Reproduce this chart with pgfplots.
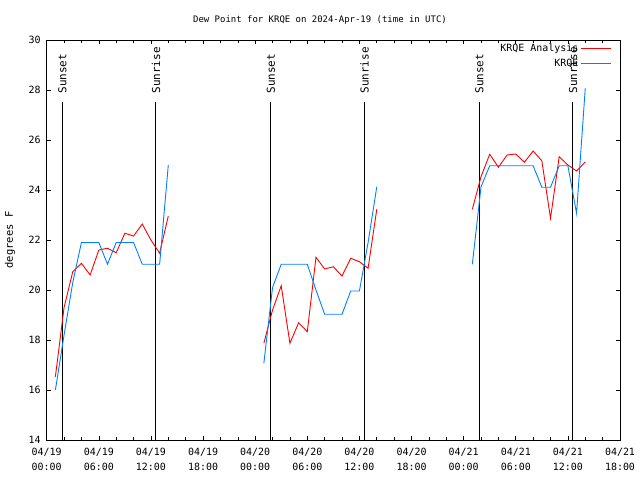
\documentclass[border=0pt]{standalone}
\usepackage{pgfplots}
\pgfplotsset{compat=1.18}
\usepackage{fontspec}
\setmainfont{DejaVu Sans Mono}
\definecolor{kblue}{RGB}{0,128,255}
\begin{document}
\fontsize{9}{11}\selectfont
\begin{tikzpicture}
\path[use as bounding box] (-46.7bp,-40bp) rectangle (593.3bp,440bp);
\begin{axis}[
  at={(0,0)}, anchor=south west,
  scale only axis, width=573.3bp, height=400bp,
  xmin=0, xmax=66, ymin=14, ymax=30,
  xtick={0,6,...,66},
  xticklabels={04/19\\00:00,04/19\\06:00,04/19\\12:00,04/19\\18:00,04/20\\00:00,04/20\\06:00,04/20\\12:00,04/20\\18:00,04/21\\00:00,04/21\\06:00,04/21\\12:00,04/21\\18:00},
  xticklabel style={align=center, font=\fontsize{10}{15}\selectfont, yshift=-5bp},
  minor x tick num=2,
  ytick={14,16,...,30},
  yticklabel style={font=\fontsize{10}{12}\selectfont, xshift=-3bp},
  tick pos=both, tick align=inside,
  major tick length=4bp, minor tick length=3bp,
  tick style={black, line width=0.6bp},
  axis line style={line width=0.8bp},
  /pgf/number format/assume math mode=true,
  unbounded coords=jump,
  legend style={at={(rel axis cs:0.985,0.995)}, anchor=north east, draw=none, fill=none,
    font=\fontsize{10}{12}\selectfont, inner sep=0pt, row sep=1.5bp,
    /tikz/every even column/.append style={column sep=5bp}},
  legend cell align=right,
  legend plot pos=right,
  legend image code/.code={\draw[#1] (0bp,0bp) -- (30bp,0bp);},
]
% sunset / sunrise lines
\addplot[black, line width=1bp, forget plot] coordinates {(1.8,14) (1.8,27.5)};
\addplot[black, line width=1bp, forget plot] coordinates {(12.58,14) (12.58,27.5)};
\addplot[black, line width=1bp, forget plot] coordinates {(25.8,14) (25.8,27.5)};
\addplot[black, line width=1bp, forget plot] coordinates {(36.58,14) (36.58,27.5)};
\addplot[black, line width=1bp, forget plot] coordinates {(49.8,14) (49.8,27.5)};
\addplot[black, line width=1bp, forget plot] coordinates {(60.58,14) (60.58,27.5)};
\node[rotate=90, anchor=west, inner sep=0pt, font=\fontsize{11}{13}\selectfont] at (axis cs:1.8,27.85) {Sunset};
\node[rotate=90, anchor=west, inner sep=0pt, font=\fontsize{11}{13}\selectfont] at (axis cs:12.58,27.85) {Sunrise};
\node[rotate=90, anchor=west, inner sep=0pt, font=\fontsize{11}{13}\selectfont] at (axis cs:25.8,27.85) {Sunset};
\node[rotate=90, anchor=west, inner sep=0pt, font=\fontsize{11}{13}\selectfont] at (axis cs:36.58,27.85) {Sunrise};
\node[rotate=90, anchor=west, inner sep=0pt, font=\fontsize{11}{13}\selectfont] at (axis cs:49.8,27.85) {Sunset};
\node[rotate=90, anchor=west, inner sep=0pt, font=\fontsize{11}{13}\selectfont] at (axis cs:60.58,27.85) {Sunrise};
% KRQE Analysis
\addplot[color=red, line width=0.9bp] coordinates {
 (1,16.53) (2,19.3) (3,20.73) (4,21.07) (5,20.6) (6,21.6) (7,21.67) (8,21.49) (9,22.27) (10,22.16) (11,22.64) (12,22.0) (13,21.47) (14,22.96)
 (20,nan)
 (25,17.87) (26,19.2) (27,20.17) (28,17.87) (29,18.69) (30,18.33) (31,21.31) (32,20.84) (33,20.93) (34,20.56) (35,21.27) (36,21.13) (37,20.87) (38,23.23)
 (44,nan)
 (49,23.23) (50,24.53) (51,25.43) (52,24.91) (53,25.4) (54,25.44) (55,25.11) (56,25.56) (57,25.17) (58,22.87) (59,25.33) (60,25.0) (61,24.76) (62,25.12)
};
\addlegendentry{KRQE Analysis}
% KRQE
\addplot[color=kblue, line width=0.9bp] coordinates {
 (1,16.0) (2,18.2) (3,20.3) (4,21.9) (5,21.9) (6,21.9) (7,21.03) (8,21.9) (9,21.9) (10,21.9) (11,21.03) (12,21.03) (13,21.03) (14,25.0)
 (20,nan)
 (25,17.07) (26,20.1) (27,21.03) (28,21.03) (29,21.03) (30,21.03) (31,20.0) (32,19.03) (33,19.03) (34,19.03) (35,19.96) (36,19.96) (37,21.9) (38,24.13)
 (44,nan)
 (49,21.03) (50,24.13) (51,24.97) (52,24.97) (53,24.97) (54,24.97) (55,24.97) (56,24.97) (57,24.11) (58,24.11) (59,24.97) (60,24.97) (61,23.07) (62,28.07)
};
\addlegendentry{KRQE}
\end{axis}
\node[anchor=center] at (273.3bp,420bp) {Dew Point for KRQE on 2024-Apr-19 (time in UTC)};
\node[rotate=90, anchor=center, font=\fontsize{10.5}{12}\selectfont] at (-36.7bp,200bp) {degrees F};
\end{tikzpicture}
\end{document}
